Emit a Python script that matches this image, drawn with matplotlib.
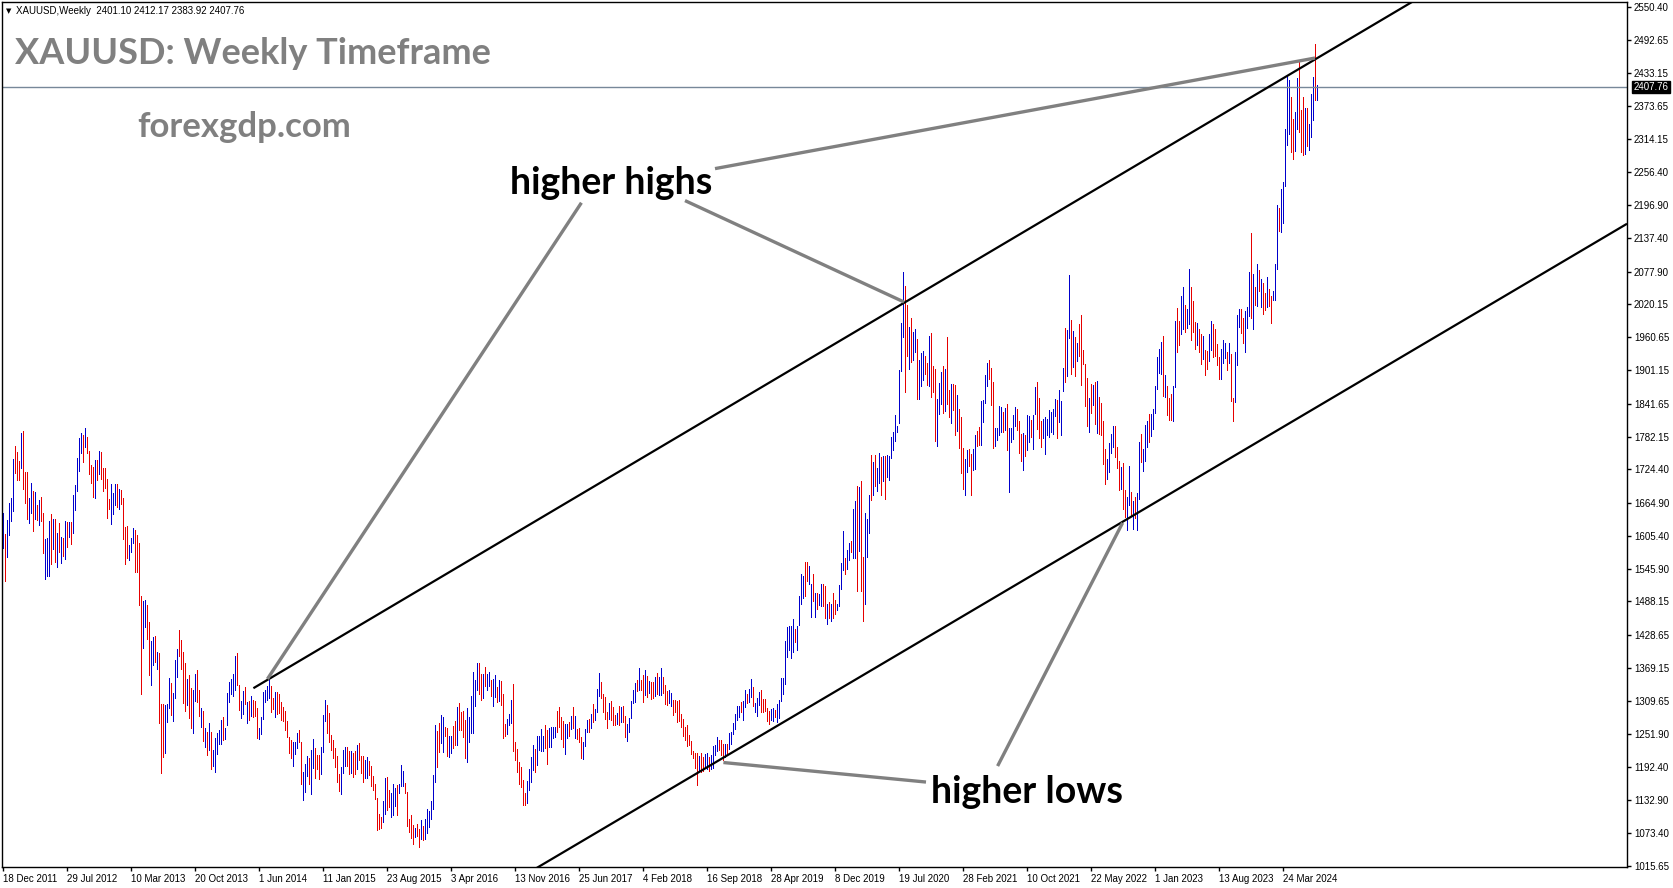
"""
XAUUSD weekly bar chart with rising channel (MT4 style screenshot).
"""
import matplotlib
matplotlib.use("Agg")
import matplotlib.pyplot as plt
import numpy as np

# weekly bars, first bar = week of 18 Dec 2011
highs = [
    1646, 1609, 1634, 1664, 1673, 1743, 1766, 1755, 1739, 1790, 1793, 1720, 1720, 1673, 1700, 1686, 1684, 1661, 1670, 1675,
    1646, 1600, 1601, 1632, 1644, 1635, 1635, 1610, 1628, 1603, 1601, 1632, 1630, 1630, 1630, 1678, 1696, 1745, 1780, 1789,
    1786, 1798, 1782, 1757, 1732, 1728, 1741, 1741, 1757, 1755, 1727, 1727, 1707, 1671, 1698, 1682, 1698, 1698, 1689, 1687,
    1673, 1621, 1623, 1589, 1601, 1619, 1616, 1607, 1593, 1498, 1489, 1491, 1482, 1451, 1417, 1425, 1426, 1398, 1396, 1305,
    1305, 1303, 1305, 1351, 1342, 1324, 1383, 1403, 1437, 1419, 1398, 1378, 1349, 1357, 1333, 1330, 1358, 1365, 1330, 1298,
    1292, 1262, 1255, 1271, 1255, 1222, 1244, 1253, 1258, 1276, 1281, 1262, 1324, 1344, 1349, 1358, 1391, 1396, 1339, 1310,
    1328, 1335, 1308, 1310, 1319, 1312, 1310, 1298, 1262, 1281, 1326, 1330, 1337, 1348, 1337, 1315, 1326, 1326, 1323, 1308,
    1299, 1292, 1274, 1246, 1240, 1237, 1237, 1253, 1258, 1237, 1183, 1197, 1212, 1208, 1222, 1242, 1226, 1213, 1213, 1228,
    1285, 1312, 1303, 1289, 1249, 1240, 1226, 1212, 1180, 1192, 1222, 1228, 1228, 1221, 1221, 1217, 1221, 1231, 1235, 1212,
    1212, 1205, 1210, 1203, 1194, 1176, 1162, 1137, 1108, 1103, 1131, 1172, 1174, 1151, 1146, 1162, 1155, 1160, 1162, 1196,
    1185, 1163, 1147, 1099, 1106, 1088, 1083, 1090, 1081, 1097, 1087, 1099, 1117, 1113, 1131, 1178, 1267, 1256, 1271, 1285,
    1281, 1264, 1262, 1248, 1247, 1265, 1274, 1299, 1306, 1290, 1292, 1276, 1297, 1281, 1319, 1362, 1348, 1378, 1378, 1358,
    1358, 1371, 1358, 1362, 1348, 1349, 1357, 1335, 1348, 1346, 1323, 1269, 1278, 1287, 1312, 1340, 1237, 1224, 1201, 1192,
    1169, 1146, 1167, 1188, 1210, 1231, 1224, 1247, 1247, 1260, 1247, 1267, 1258, 1262, 1264, 1264, 1264, 1292, 1299, 1281,
    1274, 1269, 1269, 1273, 1283, 1299, 1283, 1260, 1262, 1246, 1237, 1260, 1276, 1278, 1287, 1305, 1296, 1331, 1360, 1344,
    1323, 1317, 1290, 1306, 1310, 1299, 1285, 1289, 1301, 1299, 1301, 1283, 1269, 1280, 1310, 1330, 1342, 1348, 1369, 1348,
    1357, 1366, 1355, 1346, 1344, 1344, 1353, 1360, 1353, 1369, 1353, 1339, 1328, 1330, 1324, 1311, 1311, 1310, 1311, 1286,
    1278, 1264, 1268, 1250, 1239, 1221, 1218, 1218, 1212, 1218, 1210, 1216, 1218, 1210, 1214, 1230, 1232, 1246, 1241, 1241,
    1233, 1233, 1233, 1253, 1255, 1271, 1286, 1301, 1301, 1308, 1310, 1329, 1322, 1331, 1349, 1335, 1306, 1315, 1326, 1329,
    1313, 1313, 1297, 1292, 1295, 1297, 1294, 1304, 1311, 1351, 1351, 1418, 1442, 1444, 1444, 1457, 1439, 1444, 1498, 1538,
    1533, 1559, 1558, 1552, 1520, 1538, 1504, 1504, 1502, 1520, 1520, 1516, 1483, 1487, 1483, 1504, 1490, 1483, 1518, 1556,
    1614, 1565, 1580, 1593, 1596, 1653, 1667, 1694, 1692, 1704, 1568, 1647, 1635, 1679, 1750, 1737, 1750, 1726, 1754, 1747,
    1748, 1748, 1750, 1748, 1782, 1791, 1821, 1801, 1902, 1986, 2077, 2052, 2018, 1979, 1995, 1970, 1975, 1957, 1920, 1932,
    1936, 1927, 1914, 1963, 1968, 1909, 1904, 1850, 1879, 1898, 1909, 1904, 1961, 1866, 1877, 1877, 1875, 1857, 1832, 1818,
    1762, 1743, 1759, 1760, 1752, 1760, 1786, 1793, 1800, 1846, 1848, 1893, 1914, 1920, 1905, 1880, 1798, 1798, 1837, 1836,
    1827, 1834, 1841, 1798, 1798, 1821, 1836, 1832, 1811, 1787, 1789, 1786, 1821, 1820, 1812, 1821, 1871, 1880, 1852, 1811,
    1814, 1818, 1814, 1830, 1827, 1832, 1850, 1848, 1866, 1846, 1905, 1977, 1973, 2072, 1991, 1972, 1961, 1950, 1984, 2000,
    1938, 1913, 1888, 1852, 1877, 1875, 1880, 1882, 1853, 1843, 1811, 1760, 1743, 1771, 1788, 1802, 1802, 1765, 1740, 1729,
    1735, 1688, 1675, 1730, 1683, 1668, 1675, 1682, 1773, 1787, 1760, 1804, 1810, 1824, 1823, 1833, 1873, 1925, 1939, 1952,
    1963, 1893, 1873, 1852, 1859, 1873, 1989, 2013, 1989, 2034, 2050, 2018, 2011, 2082, 2050, 2025, 1988, 1986, 1975, 1966,
    1963, 1938, 1936, 1966, 1989, 1984, 1975, 1948, 1925, 1939, 1955, 1950, 1934, 1950, 1930, 1852, 1934, 2000, 2011, 2011,
    1995, 2007, 2014, 2077, 2147, 2073, 2050, 2091, 2081, 2065, 2057, 2040, 2068, 2047, 2034, 2043, 2091, 2197, 2191, 2225,
    2238, 2333, 2428, 2420, 2390, 2351, 2363, 2424, 2454, 2367, 2390, 2370, 2370, 2342, 2395, 2426, 2485, 2412.17,
]
lows = [
    1584, 1524, 1568, 1607, 1632, 1650, 1718, 1705, 1705, 1727, 1689, 1664, 1636, 1628, 1646, 1614, 1636, 1634, 1625, 1632,
    1575, 1528, 1534, 1534, 1555, 1582, 1559, 1550, 1576, 1557, 1569, 1564, 1585, 1603, 1591, 1610, 1652, 1686, 1721, 1754,
    1737, 1764, 1754, 1716, 1700, 1675, 1673, 1705, 1716, 1707, 1686, 1691, 1637, 1653, 1627, 1644, 1661, 1657, 1653, 1662,
    1600, 1555, 1566, 1562, 1576, 1593, 1541, 1541, 1482, 1323, 1405, 1442, 1421, 1357, 1339, 1374, 1380, 1367, 1271, 1181,
    1210, 1217, 1273, 1298, 1285, 1274, 1315, 1353, 1391, 1367, 1306, 1292, 1303, 1280, 1262, 1253, 1310, 1308, 1283, 1264,
    1239, 1228, 1214, 1222, 1188, 1194, 1183, 1215, 1233, 1233, 1240, 1242, 1267, 1308, 1323, 1319, 1330, 1339, 1294, 1280,
    1287, 1305, 1271, 1276, 1283, 1281, 1283, 1244, 1242, 1251, 1278, 1308, 1312, 1315, 1290, 1296, 1281, 1287, 1289, 1276,
    1274, 1258, 1246, 1217, 1208, 1194, 1215, 1226, 1237, 1162, 1133, 1147, 1176, 1162, 1144, 1190, 1172, 1189, 1171, 1180,
    1219, 1274, 1253, 1237, 1222, 1208, 1192, 1165, 1149, 1144, 1181, 1194, 1194, 1180, 1181, 1174, 1180, 1189, 1205, 1181,
    1165, 1172, 1172, 1178, 1158, 1151, 1135, 1079, 1081, 1083, 1094, 1108, 1115, 1121, 1103, 1106, 1122, 1106, 1146, 1158,
    1158, 1146, 1087, 1076, 1065, 1054, 1067, 1069, 1049, 1063, 1062, 1063, 1074, 1085, 1099, 1117, 1165, 1192, 1219, 1235,
    1219, 1248, 1212, 1210, 1217, 1226, 1231, 1231, 1258, 1258, 1246, 1208, 1201, 1237, 1253, 1253, 1301, 1330, 1323, 1312,
    1315, 1337, 1330, 1337, 1319, 1301, 1317, 1308, 1310, 1303, 1244, 1247, 1251, 1267, 1271, 1221, 1205, 1183, 1162, 1156,
    1124, 1124, 1127, 1151, 1165, 1187, 1183, 1196, 1222, 1221, 1221, 1226, 1197, 1228, 1228, 1244, 1246, 1255, 1264, 1242,
    1228, 1215, 1244, 1247, 1260, 1262, 1244, 1242, 1237, 1208, 1206, 1230, 1255, 1255, 1262, 1273, 1276, 1290, 1319, 1315,
    1290, 1278, 1262, 1278, 1276, 1267, 1267, 1269, 1267, 1273, 1273, 1246, 1238, 1255, 1280, 1306, 1308, 1328, 1330, 1330,
    1308, 1321, 1317, 1324, 1314, 1315, 1319, 1323, 1321, 1321, 1324, 1305, 1303, 1306, 1301, 1285, 1290, 1273, 1275, 1264,
    1248, 1241, 1230, 1232, 1216, 1209, 1191, 1160, 1185, 1184, 1185, 1191, 1188, 1185, 1188, 1191, 1214, 1221, 1223, 1214,
    1204, 1210, 1217, 1225, 1234, 1251, 1260, 1276, 1282, 1290, 1276, 1299, 1306, 1308, 1317, 1301, 1290, 1283, 1303, 1290,
    1290, 1292, 1275, 1269, 1276, 1275, 1282, 1273, 1280, 1310, 1322, 1340, 1388, 1402, 1387, 1397, 1416, 1402, 1446, 1483,
    1494, 1498, 1524, 1520, 1460, 1489, 1460, 1474, 1481, 1480, 1480, 1458, 1447, 1458, 1453, 1458, 1465, 1473, 1480, 1511,
    1545, 1538, 1547, 1563, 1576, 1565, 1565, 1506, 1578, 1506, 1453, 1483, 1568, 1610, 1670, 1678, 1694, 1685, 1699, 1678,
    1704, 1672, 1710, 1706, 1744, 1759, 1775, 1791, 1807, 1900, 1961, 1862, 1927, 1904, 1916, 1920, 1934, 1850, 1850, 1873,
    1884, 1895, 1875, 1873, 1853, 1862, 1775, 1766, 1823, 1841, 1825, 1828, 1841, 1818, 1807, 1830, 1786, 1793, 1762, 1718,
    1689, 1678, 1719, 1730, 1678, 1723, 1725, 1766, 1768, 1768, 1809, 1843, 1873, 1886, 1839, 1762, 1766, 1777, 1786, 1791,
    1791, 1795, 1759, 1684, 1773, 1778, 1802, 1795, 1753, 1739, 1723, 1748, 1759, 1773, 1782, 1760, 1823, 1796, 1780, 1764,
    1780, 1752, 1786, 1782, 1791, 1787, 1820, 1780, 1809, 1786, 1864, 1880, 1891, 1959, 1895, 1907, 1891, 1918, 1927, 1875,
    1913, 1837, 1802, 1791, 1825, 1839, 1805, 1789, 1787, 1786, 1734, 1698, 1707, 1719, 1754, 1765, 1746, 1727, 1688, 1690,
    1654, 1639, 1615, 1660, 1640, 1617, 1638, 1616, 1672, 1737, 1721, 1740, 1765, 1774, 1784, 1796, 1825, 1868, 1897, 1895,
    1855, 1854, 1821, 1812, 1812, 1811, 1871, 1934, 1947, 1966, 1975, 1970, 1977, 1984, 1955, 1970, 1939, 1947, 1934, 1913,
    1922, 1893, 1904, 1918, 1938, 1925, 1927, 1911, 1886, 1886, 1914, 1923, 1902, 1914, 1846, 1811, 1845, 1911, 1979, 1968,
    1950, 1934, 1977, 1998, 1995, 1975, 2018, 2016, 2043, 2014, 2002, 2009, 2014, 2016, 1986, 2027, 2027, 2082, 2150, 2149,
    2165, 2231, 2304, 2324, 2292, 2279, 2293, 2333, 2327, 2292, 2286, 2288, 2302, 2295, 2318, 2349, 2384, 2383.92,
]
# 1 = bullish week (blue), 0 = bearish week (red)
up_weeks = (
    "1011110001" "0001101010" "0111010101" "0101011111" "0100001010" "0000111010" "0001110000" "1100110100"
    "0111011100" "0010011001" "0101011111" "0111111001" "1010100011" "1111001000" "0000011100" "1110110001"
    "1100000001" "1100100100" "0110000000" "1100111011" "1000001001" "0111111001" "1001100100" "0011111100"
    "1011011010" "0011100000" "0011110111" "1001111000" "0110101000" "1110101110" "0001000101" "0011111010"
    "0101001011" "0001100000" "0000000010" "0110111100" "0101111110" "1101101110" "0000110111" "1111110111"
    "1001101011" "0010100111" "1011011010" "0111010110" "1011111111" "1001011011" "1001000111" "0100100100"
    "0110011001" "1110001111" "0101111000" "1011011000" "1111111011" "1011010100" "0001010100" "0011110001"
    "0011010110" "1110111111" "0100011001" "1011000100" "1001100001" "1101001110" "0111010101" "0010011101"
    "1111001100" "01011101"
)

date_labels = [
    "18 Dec 2011", "29 Jul 2012", "10 Mar 2013", "20 Oct 2013", "1 Jun 2014", "11 Jan 2015",
    "23 Aug 2015", "3 Apr 2016", "13 Nov 2016", "25 Jun 2017", "4 Feb 2018", "16 Sep 2018",
    "28 Apr 2019", "8 Dec 2019", "19 Jul 2020", "28 Feb 2021", "10 Oct 2021", "22 May 2022",
    "1 Jan 2023", "13 Aug 2023", "24 Mar 2024",
]
price_ticks = [
    2550.40, 2492.65, 2433.15, 2373.65, 2314.15, 2256.40, 2196.90, 2137.40, 2077.90,
    2020.15, 1960.65, 1901.15, 1841.65, 1782.15, 1724.40, 1664.90, 1605.40, 1545.90,
    1488.15, 1428.65, 1369.15, 1309.65, 1251.90, 1192.40, 1132.90, 1073.40, 1015.65,
]
last_bar = (2401.10, 2412.17, 2383.92, 2407.76)

# channel lines (bar index, price)
upper_channel = [(125.2, 1333.0), (760.0, 2677.5)]
lower_channel = [(250.0, 976.0), (812.0, 2163.4)]
# grey pointer lines from the labels to the touches
high_pointers = [
    [(289.2, 2201.0), (132.2, 1349.4)],
    [(341.0, 2204.8), (450.5, 2023.5)],
    [(356.0, 2262.0), (656.0, 2459.7)],
]
low_pointers = [
    [(461.5, 1165.2), (360.2, 1200.1)],
    [(497.3, 1193.8), (559.8, 1628.7)],
]

W, H = 1673, 888
BLUE = "#0000cc"
RED = "#e60000"
GREY = "#808080"

assert len(highs) == len(lows) == len(up_weeks)

fig = plt.figure(figsize=(W / 100, H / 100), dpi=100)
ax = fig.add_axes([2 / W, (H - 867) / H, 1625 / W, 865 / H])

x = np.arange(len(highs))
hi = np.array(highs, dtype=float)
lo = np.array(lows, dtype=float)
up = np.array([c == "1" for c in up_weeks])

ax.vlines(x[up], lo[up], hi[up], color=BLUE, linewidth=0.7, antialiased=False)
ax.vlines(x[~up], lo[~up], hi[~up], color=RED, linewidth=0.7, antialiased=False)

# current price line
ax.axhline(last_bar[3], color="#778899", linewidth=1.0)

for seg in (upper_channel, lower_channel):
    (x0, y0), (x1, y1) = seg
    ax.plot([x0, x1], [y0, y1], color="black", linewidth=1.6, solid_capstyle="butt")

for seg in high_pointers + low_pointers:
    (x0, y0), (x1, y1) = seg
    ax.plot([x0, x1], [y0, y1], color=GREY, linewidth=2.4, solid_capstyle="butt")

ax.set_xlim(-0.5, 812)
ax.set_ylim(1013.3, 2559.9)

# axes like the terminal: prices on the right, dates every 32 weeks
ax.yaxis.tick_right()
ax.set_yticks(price_ticks)
ax.set_yticklabels([f"{v:.2f}" for v in price_ticks], fontfamily="Liberation Sans", fontsize=7)
ax.set_xticks(np.arange(len(date_labels)) * 32)
ax.set_xticklabels(date_labels, fontfamily="Liberation Sans", fontsize=7, ha="left")
ax.tick_params(axis="both", direction="out", length=3, width=1, pad=2, colors="black")
for sp in ax.spines.values():
    sp.set_color("black")
    sp.set_linewidth(1.0)

# current price tag on the axis
ax.text(1.004, last_bar[3], f"{last_bar[3]:.2f}", transform=ax.get_yaxis_transform(),
        ha="left", va="center", fontsize=7, fontfamily="Liberation Sans", color="white",
        bbox=dict(boxstyle="square,pad=0.12", facecolor="black", edgecolor="black"))

# header line
fig.text(6 / W, 1 - 11 / H, "\u25bc", fontsize=5, color="black", va="center", ha="left")
fig.text(16 / W, 1 - 11 / H,
         "XAUUSD,Weekly  " + " ".join(f"{v:.2f}" for v in last_bar),
         fontsize=7, fontfamily="Liberation Sans", color="black", va="center", ha="left")

fig.text(15 / W, 1 - 54 / H, "XAUUSD: Weekly Timeframe", fontsize=26, fontweight="bold",
         fontfamily="Lato", color=GREY, va="center", ha="left")
fig.text(137 / W, 1 - 127 / H, "forexgdp.com", fontsize=25, fontweight="bold",
         fontfamily="Lato", color=GREY, va="center", ha="left")

fig.text(611 / W, 1 - 183 / H, "higher highs", fontsize=27, fontweight="bold",
         fontfamily="Lato", color="black", va="center", ha="center")
fig.text(1027 / W, 1 - 792 / H, "higher lows", fontsize=27, fontweight="bold",
         fontfamily="Lato", color="black", va="center", ha="center")

fig.savefig("out.png", dpi=100, facecolor="white")
